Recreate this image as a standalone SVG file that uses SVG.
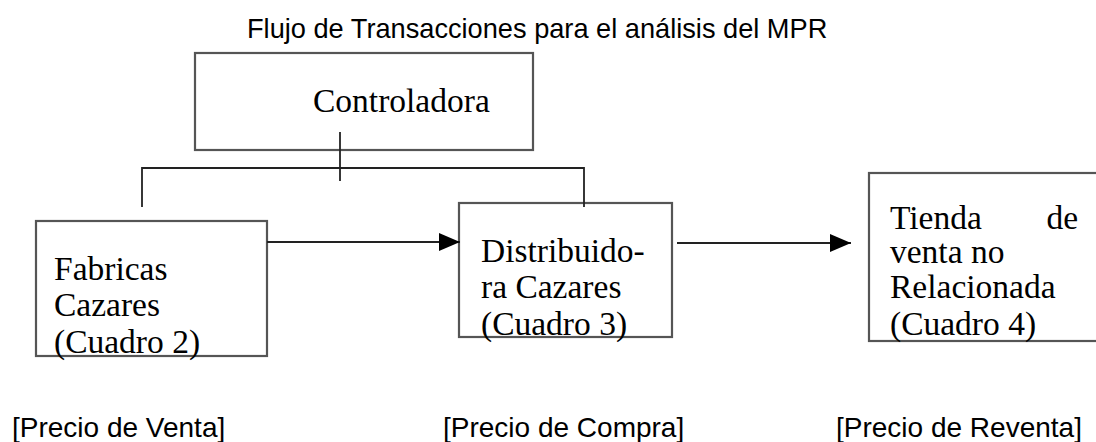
<svg xmlns="http://www.w3.org/2000/svg" width="1096" height="442" viewBox="0 0 1096 442">
<style>
.box{fill:#fff;stroke:#555;stroke-width:2.2}
.line{fill:none;stroke:#222;stroke-width:1.8}
.serif{font-family:"Liberation Serif","Times New Roman",serif;font-size:33.5px;fill:#000}
.sans{font-family:"Liberation Sans",Arial,sans-serif;fill:#000}
</style>
<defs>
<marker id="arr" markerWidth="22" markerHeight="18" refX="21" refY="9" orient="auto" markerUnits="userSpaceOnUse">
<path d="M0,0 L21,9 L0,18 Z" fill="#000"/>
</marker>
</defs>
<rect width="1096" height="442" fill="#fff"/>
<text class="sans" x="247" y="38" font-size="27.2">Flujo de Transacciones para el análisis del MPR</text>
<g id="controladora">
<rect class="box" x="195" y="53" width="338" height="97"/>
<text class="serif" x="313" y="112" font-size="34.5">Controladora</text>
</g>
<g id="fabricas">
<rect class="box" x="36" y="221" width="231" height="135"/>
<text class="serif" x="54" y="280">Fabricas</text>
<text class="serif" x="54" y="316">Cazares</text>
<text class="serif" x="54" y="353">(Cuadro 2)</text>
</g>
<g id="distribuidora">
<rect class="box" x="459" y="203" width="213" height="134"/>
<text class="serif" x="481" y="262">Distribuido-</text>
<text class="serif" x="481" y="298">ra Cazares</text>
<text class="serif" x="481" y="335">(Cuadro 3)</text>
</g>
<g id="tienda">
<rect class="box" x="869" y="173" width="240" height="168"/>
<text class="serif" x="890" y="229">Tienda</text>
<text class="serif" x="1078" y="229" text-anchor="end">de</text>
<text class="serif" x="890" y="263">venta no</text>
<text class="serif" x="890" y="298">Relacionada</text>
<text class="serif" x="890" y="335">(Cuadro 4)</text>
</g>
<g id="connectors">
<path class="line" d="M340,132 V181"/>
<path class="line" d="M142,207 V168 H584 V207"/>
<path class="line" d="M267,242 H460" marker-end="url(#arr)"/>
<path class="line" d="M677,243 H851" marker-end="url(#arr)"/>
</g>
<g id="labels">
<text class="sans" x="12" y="437" font-size="28">[Precio de Venta]</text>
<text class="sans" x="443" y="437" font-size="28">[Precio de Compra]</text>
<text class="sans" x="836" y="437" font-size="28">[Precio de Reventa]</text>
</g>
</svg>
